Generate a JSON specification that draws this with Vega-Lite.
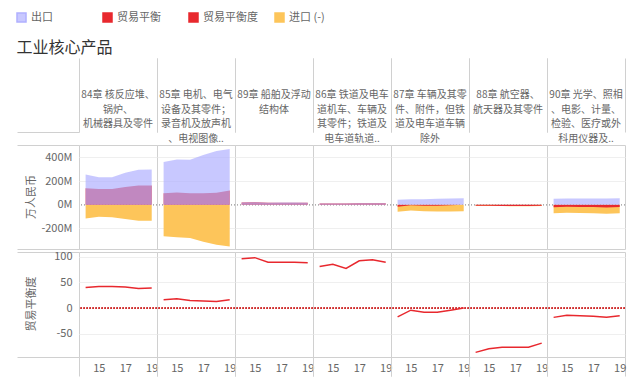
{
  "$schema": "https://vega.github.io/schema/vega-lite/v6.json",
  "padding": {"left": 16, "top": 12, "right": 10, "bottom": 4},
  "background": "white",
  "config": {
    "font": "Noto Sans CJK SC",
    "view": {"stroke": "#d0d0d0"},
    "axis": {"labelColor": "#666", "labelFontSize": 11, "titleColor": "#666", "titleFontSize": 11, "titleFontWeight": "normal", "labelFlush": false},
    "facet": {"spacing": 0},
    "concat": {"spacing": 0}
  },
  "datasets": {
    "hdr": [
      {"cat": "84", "label": "84章 核反应堆、\n锅炉、\n机械器具及零件"},
      {"cat": "85", "label": "85章 电机、电气\n设备及其零件；\n录音机及放声机\n、电视图像.."},
      {"cat": "89", "label": "89章 船舶及浮动\n结构体"},
      {"cat": "86", "label": "86章 铁道及电车\n道机车、车辆及\n其零件；铁道及\n电车道轨道.."},
      {"cat": "87", "label": "87章 车辆及其零\n件、附件，但铁\n道及电车道车辆\n除外"},
      {"cat": "88", "label": "88章 航空器、\n航天器及其零件"},
      {"cat": "90", "label": "90章 光学、照相\n、电影、计量、\n检验、医疗或外\n科用仪器及.."}
    ],
    "d": [
      {"cat": "84", "year": 2014, "export": 255, "import": -116, "balance": 139, "degree": 40},
      {"cat": "84", "year": 2015, "export": 232, "import": -103, "balance": 133, "degree": 42},
      {"cat": "84", "year": 2016, "export": 232, "import": -106, "balance": 133, "degree": 42},
      {"cat": "84", "year": 2017, "export": 270, "import": -122, "balance": 150, "degree": 41},
      {"cat": "84", "year": 2018, "export": 296, "import": -137, "balance": 162, "degree": 38},
      {"cat": "84", "year": 2019, "export": 298, "import": -135, "balance": 162, "degree": 39},
      {"cat": "85", "year": 2014, "export": 362, "import": -267, "balance": 96, "degree": 16},
      {"cat": "85", "year": 2015, "export": 383, "import": -275, "balance": 104, "degree": 18},
      {"cat": "85", "year": 2016, "export": 380, "import": -282, "balance": 96, "degree": 15},
      {"cat": "85", "year": 2017, "export": 420, "import": -313, "balance": 96, "degree": 14},
      {"cat": "85", "year": 2018, "export": 455, "import": -339, "balance": 100, "degree": 13},
      {"cat": "85", "year": 2019, "export": 472, "import": -354, "balance": 120, "degree": 16},
      {"cat": "89", "year": 2014, "export": 18, "import": -0.5, "balance": 17.5, "degree": 96},
      {"cat": "89", "year": 2015, "export": 20, "import": -0.2, "balance": 19.8, "degree": 98},
      {"cat": "89", "year": 2016, "export": 17, "import": -1, "balance": 16, "degree": 89},
      {"cat": "89", "year": 2017, "export": 18, "import": -1, "balance": 17, "degree": 89},
      {"cat": "89", "year": 2018, "export": 18, "import": -1, "balance": 17, "degree": 89},
      {"cat": "89", "year": 2019, "export": 17, "import": -1.1, "balance": 15.9, "degree": 88},
      {"cat": "86", "year": 2014, "export": 10, "import": -1, "balance": 9, "degree": 81},
      {"cat": "86", "year": 2015, "export": 11, "import": -0.9, "balance": 10.1, "degree": 85},
      {"cat": "86", "year": 2016, "export": 10.5, "import": -1.4, "balance": 9.1, "degree": 77},
      {"cat": "86", "year": 2017, "export": 12, "import": -0.5, "balance": 11.5, "degree": 92},
      {"cat": "86", "year": 2018, "export": 12.5, "import": -0.4, "balance": 12.1, "degree": 94},
      {"cat": "86", "year": 2019, "export": 13, "import": -0.75, "balance": 12.25, "degree": 89},
      {"cat": "87", "year": 2014, "export": 42, "import": -59, "balance": -17, "degree": -17},
      {"cat": "87", "year": 2015, "export": 46, "import": -50, "balance": -4, "degree": -4},
      {"cat": "87", "year": 2016, "export": 47, "import": -55, "balance": -8, "degree": -8},
      {"cat": "87", "year": 2017, "export": 50, "import": -58, "balance": -8, "degree": -8},
      {"cat": "87", "year": 2018, "export": 53, "import": -57, "balance": -4, "degree": -4},
      {"cat": "87", "year": 2019, "export": 55, "import": -55, "balance": 0, "degree": 0},
      {"cat": "88", "year": 2014, "export": 0.75, "import": -10, "balance": -9.25, "degree": -86},
      {"cat": "88", "year": 2015, "export": 1.3, "import": -11, "balance": -9.7, "degree": -79},
      {"cat": "88", "year": 2016, "export": 1.6, "import": -12, "balance": -10.4, "degree": -76},
      {"cat": "88", "year": 2017, "export": 1.75, "import": -13, "balance": -11.25, "degree": -76},
      {"cat": "88", "year": 2018, "export": 1.75, "import": -13, "balance": -11.25, "degree": -76},
      {"cat": "88", "year": 2019, "export": 2.3, "import": -12, "balance": -9.7, "degree": -68},
      {"cat": "90", "year": 2014, "export": 50, "import": -72, "balance": -22, "degree": -18},
      {"cat": "90", "year": 2015, "export": 52, "import": -69, "balance": -17, "degree": -14},
      {"cat": "90", "year": 2016, "export": 52, "import": -71, "balance": -19, "degree": -15},
      {"cat": "90", "year": 2017, "export": 53, "import": -73, "balance": -20, "degree": -16},
      {"cat": "90", "year": 2018, "export": 53, "import": -76, "balance": -23, "degree": -18},
      {"cat": "90", "year": 2019, "export": 54, "import": -73, "balance": -19, "degree": -15}
    ]
  },
  "spacing": 0,
  "vconcat": [
    {
      "title": {"text": "工业核心产品", "anchor": "start", "fontSize": 16, "fontWeight": "normal", "color": "#333", "offset": 2},
      "data": {"name": "hdr"},
      "bounds": "flush",
      "facet": {"column": {"field": "cat", "type": "nominal", "sort": ["84", "85", "89", "86", "87", "88", "90"], "title": null, "header": {"labels": false, "title": null}}},
      "spacing": 0,
      "spec": {
        "width": 78,
        "height": 74,
        "view": {"stroke": null},
        "mark": {"type": "text", "lineBreak": "\n", "lineHeight": 14.5, "fontSize": 10, "color": "#666", "align": "center", "baseline": "middle"},
        "encoding": {
          "text": {"field": "label", "type": "nominal"},
          "x": {"datum": 0.5, "type": "quantitative", "scale": {"domain": [0, 1], "nice": false, "zero": false}, "axis": {"values": [0, 1], "tickCount": 10, "grid": true, "gridColor": "#d0d0d0", "labels": false, "ticks": false, "domain": false, "title": null}},
          "y": {"datum": 0.5, "type": "quantitative", "scale": {"domain": [0, 1], "nice": false, "zero": false}, "axis": {"values": [0], "tickCount": 10, "ticks": true, "tickSize": 62, "tickColor": "#d0d0d0", "labels": false, "domain": false, "grid": false, "title": null}}
        }
      }
    },
    {
      "title": {"text": "万人民币", "orient": "left", "anchor": "middle", "fontSize": 11, "fontWeight": "normal", "color": "#666", "offset": -20},
      "data": {"name": "d"},
      "bounds": "flush",
      "facet": {"column": {"field": "cat", "type": "nominal", "sort": ["84", "85", "89", "86", "87", "88", "90"], "title": null, "header": {"labels": false, "title": null}}},
      "spacing": 0,
      "spec": {
        "width": 78,
        "height": 104,
        "layer": [
          {
            "mark": {"type": "rule", "strokeDash": [1, 2], "color": "#b0b0b0"},
            "encoding": {
              "y": {"datum": 0, "type": "quantitative", "title": null, "scale": {"domain": [-375, 505], "nice": false, "zero": false},
                "axis": {
                  "values": [-375, -200, 0, 200, 400, 505],
                  "tickCount": 12,
                  "labelExpr": "(datum.value == -375 || datum.value == 505) ? '' : datum.value + 'M'",
                  "labelFontSize": {"condition": {"test": "datum.value == -375 || datum.value == 505", "value": 0}, "value": 11},
                  "labelOverlap": false,
                  "tickSize": 62,
                  "tickColor": {"condition": {"test": "datum.value == -375 || datum.value == 505", "value": "#d0d0d0"}, "value": "transparent"},
                  "labelPadding": -55,
                  "domain": false,
                  "grid": true,
                  "gridColor": {"condition": {"test": "datum.value == 200 || datum.value == -200 || datum.value == 400", "value": "#efefef"}, "value": "transparent"},
                  "title": null
                }
              }
            }
          },
          {
            "mark": {"type": "area"},
            "encoding": {
              "x": {"field": "year", "type": "quantitative", "scale": {"domain": [2013.5, 2019.4], "nice": false, "zero": false}, "axis": null},
              "y": {"field": "import", "type": "quantitative", "title": null},
              "y2": {"datum": 0},
              "color": {"datum": "进口 (-)", "type": "nominal",
                "scale": {"domain": ["出口", "贸易平衡", "贸易平衡度", "进口 (-)"], "range": ["#b0b0ff", "#e8282e", "#e8282e", "#fdc55a"]},
                "legend": {"title": null, "orient": "none", "legendX": -63, "legendY": -46, "direction": "horizontal", "columns": 4, "symbolType": "square", "symbolSize": 81, "labelFontSize": 11, "labelColor": "#666", "labelOffset": 4, "columnPadding": 14, "gridAlign": "all",
                  "encode": {"symbols": {"update": {"fill": {"scale": "color", "field": "value"}, "stroke": {"value": "transparent"}, "opacity": {"value": 1}, "fillOpacity": {"signal": "datum.value == '出口' ? 0.7 : 1"}}}}
                }
              }
            }
          },
          {
            "mark": {"type": "area"},
            "encoding": {
              "x": {"field": "year", "type": "quantitative"},
              "y": {"field": "balance", "type": "quantitative", "title": null},
              "y2": {"datum": 0},
              "color": {"datum": "贸易平衡", "type": "nominal"}
            }
          },
          {
            "mark": {"type": "area", "opacity": 0.7},
            "encoding": {
              "x": {"field": "year", "type": "quantitative"},
              "y": {"field": "export", "type": "quantitative", "title": null},
              "y2": {"datum": 0},
              "color": {"datum": "出口", "type": "nominal"}
            }
          }
        ]
      }
    },
    {
      "title": {"text": "贸易平衡度", "orient": "left", "anchor": "middle", "fontSize": 11, "fontWeight": "normal", "color": "#666", "offset": -20, "dx": 9.5},
      "data": {"name": "d"},
      "bounds": "flush",
      "facet": {"column": {"field": "cat", "type": "nominal", "sort": ["84", "85", "89", "86", "87", "88", "90"], "title": null, "header": {"labels": false, "title": null}}},
      "spacing": 0,
      "spec": {
        "width": 78,
        "height": 105,
        "layer": [
          {
            "mark": {"type": "rule", "strokeDash": [1.5, 1.5], "color": "#d03030", "strokeWidth": 1},
            "encoding": {
              "y": {"datum": 0, "type": "quantitative", "title": null, "scale": {"domain": [-95, 109], "nice": false, "zero": false},
                "axis": {
                  "values": [-95, -50, 0, 50, 100, 109],
                  "tickCount": 12,
                  "labelExpr": "(datum.value < -90 || datum.value > 105) ? '' : datum.value + ''",
                  "labelFontSize": {"condition": {"test": "datum.value < -90 || datum.value > 105", "value": 0}, "value": 11},
                  "labelOverlap": false,
                  "tickSize": 62,
                  "tickColor": {"condition": {"test": "datum.value < -90 || datum.value > 105", "value": "#d0d0d0"}, "value": "transparent"},
                  "labelPadding": -55,
                  "domain": false,
                  "grid": true,
                  "gridColor": {"condition": {"test": "datum.value == 50 || datum.value == -50 || datum.value == 100", "value": "#efefef"}, "value": "transparent"},
                  "title": null
                }
              }
            }
          },
          {
            "mark": {"type": "line", "strokeWidth": 1.5},
            "encoding": {
              "x": {"field": "year", "type": "quantitative", "title": null, "scale": {"domain": [2013.5, 2019.4], "nice": false, "zero": false},
                "axis": {
                  "values": [2013.5, 2015, 2017, 2019, 2019.4],
                  "tickCount": 12,
                  "labelExpr": "(datum.value == 2015 || datum.value == 2017 || datum.value == 2019) ? (datum.value - 2000) + '' : ''",
                  "labelFontSize": {"condition": {"test": "datum.value < 2014 || datum.value > 2019.2", "value": 0}, "value": 11},
                  "labelOverlap": false,
                  "tickSize": 19,
                  "tickColor": {"condition": {"test": "datum.value < 2014 || datum.value > 2019.2", "value": "#d0d0d0"}, "value": "transparent"},
                  "labelPadding": -14,
                  "domain": false,
                  "grid": false,
                  "title": null
                }
              },
              "y": {"field": "degree", "type": "quantitative", "title": null},
              "color": {"datum": "贸易平衡度", "type": "nominal"}
            }
          }
        ]
      }
    }
  ]
}
